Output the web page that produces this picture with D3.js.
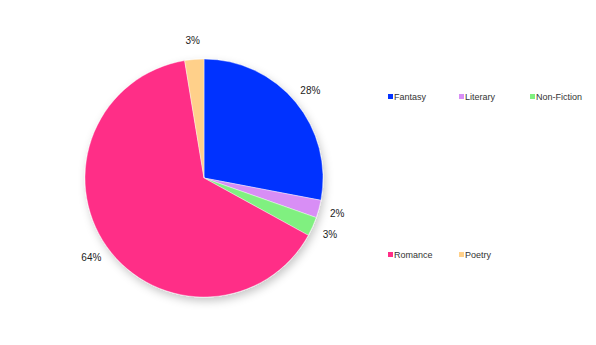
<!DOCTYPE html>
<html>
<head>
<meta charset="utf-8">
<script src="https://cdn.jsdelivr.net/npm/d3@7"></script>
<style>
  body { margin: 0; background: #fff; }
  svg { display: block; font-family: "Liberation Sans", Arial, sans-serif; }
</style>
</head>
<body>
<svg id="plot"></svg>
<script>
// data
categories = ["Fantasy", "Literary", "Non-Fiction", "Romance", "Poetry"];
values = [28.0, 2.4, 2.6, 64.4, 2.6];
colors = ["#0433ff", "#d88ef5", "#80f080", "#ff2d87", "#ffd08a"];
legendRows = [["Fantasy", "Literary", "Non-Fiction"], ["Romance", "Poetry"]];

svgWidth = 596;
svgHeight = 345;
cx = 204;
cy = 178;
radius = 119;
labelRadius = 138;

function createSVG() {
    const svg = d3.select("#plot")
        .attr("width", svgWidth)
        .attr("height", svgHeight)
        .attr("viewBox", [0, 0, svgWidth, svgHeight]);

    const filter = svg.append("defs").append("filter")
        .attr("id", "shadow")
        .attr("x", "-20%").attr("y", "-20%")
        .attr("width", "140%").attr("height", "140%");
    filter.append("feDropShadow")
        .attr("dx", 2).attr("dy", 4)
        .attr("stdDeviation", 4)
        .attr("flood-color", "#000")
        .attr("flood-opacity", 0.22);

    const color = d3.scaleOrdinal().domain(categories).range(colors);
    const total = d3.sum(values);

    const pie = d3.pie().sort(null).value(d => d.value);
    const arcs = pie(categories.map((c, i) => ({name: c, value: values[i]})));

    const arc = d3.arc().innerRadius(0).outerRadius(radius);
    const labelArc = d3.arc().innerRadius(labelRadius).outerRadius(labelRadius);

    const g = svg.append("g")
        .attr("transform", `translate(${cx},${cy})`);

    g.append("g")
        .attr("filter", "url(#shadow)")
        .selectAll("path")
        .data(arcs)
        .join("path")
        .attr("fill", d => color(d.data.name))
        .attr("stroke", "#fff")
        .attr("stroke-width", 0.4)
        .attr("d", arc);

    g.append("g")
        .selectAll("text")
        .data(arcs)
        .join("text")
        .attr("transform", d => `translate(${labelArc.centroid(d)})`)
        .attr("text-anchor", "middle")
        .attr("dominant-baseline", "central")
        .attr("font-size", 10)
        .attr("fill", "#222")
        .text(d => Math.round(d.data.value / total * 100) + "%");

    // legend
    const lx = d3.scalePoint().domain([0, 1, 2]).range([388, 530]);
    const ly = d3.scalePoint().domain([0, 1]).range([97, 255]);

    legendRows.forEach((row, r) => {
        const item = svg.append("g")
            .selectAll("g")
            .data(row)
            .join("g")
            .attr("transform", (d, i) => `translate(${lx(i)},${ly(r)})`);
        item.append("rect")
            .attr("x", 0).attr("y", -3)
            .attr("width", 5).attr("height", 5)
            .attr("fill", d => color(d));
        item.append("text")
            .attr("x", 6)
            .attr("dominant-baseline", "central")
            .attr("font-size", 9)
            .attr("fill", "#333")
            .text(d => d);
    });
}

createSVG();
</script>
</body>
</html>
